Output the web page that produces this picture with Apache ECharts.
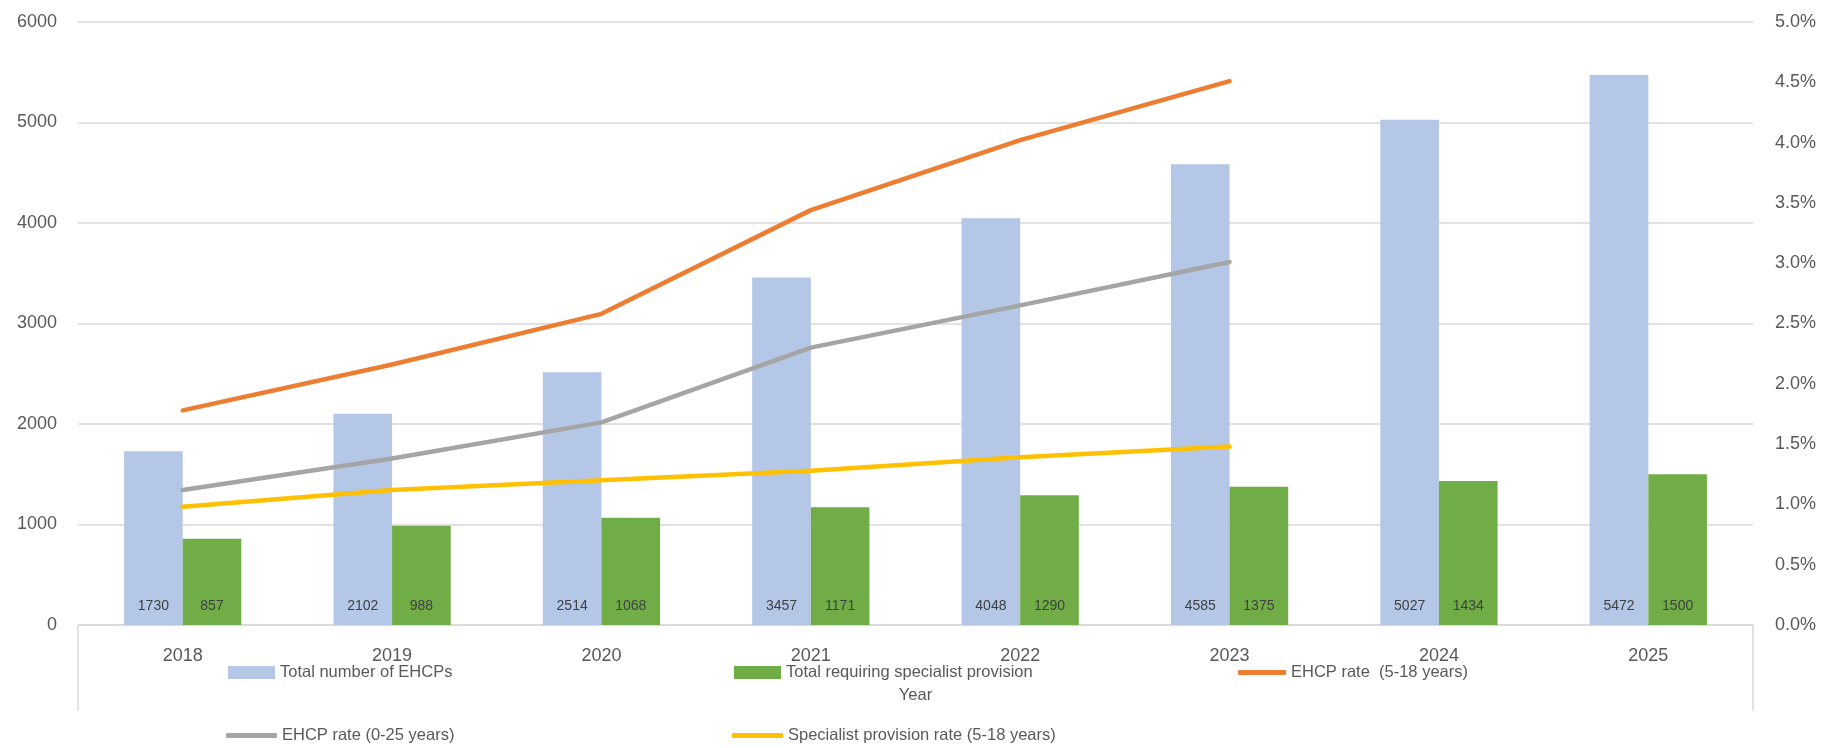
<!DOCTYPE html>
<html>
<head>
<meta charset="utf-8">
<script src="https://cdn.jsdelivr.net/npm/echarts@6/dist/echarts.min.js"></script>
<style>
  html, body { margin: 0; padding: 0; background: #fff; }
  #chart { width: 1827px; height: 748px; }
</style>
</head>
<body>
<div id="chart"></div>
<script>
// data
var years = ['2018', '2019', '2020', '2021', '2022', '2023', '2024', '2025'];
var totalEhcps = [1730, 2102, 2514, 3457, 4048, 4585, 5027, 5472];
var totalSpecialist = [857, 988, 1068, 1171, 1290, 1375, 1434, 1500];
// rates in percent, only up to 2023
var rate518 = [1.78, 2.16, 2.58, 3.44, 4.02, 4.51];
var rate025 = [1.12, 1.38, 1.68, 2.30, 2.65, 3.01];
var specRate518 = [0.98, 1.12, 1.20, 1.28, 1.39, 1.48];

var font = 'Liberation Sans, Arial, sans-serif';
var txt = '#595959';
var gridCol = '#d9d9d9';

var myChart = echarts.init(document.getElementById('chart'));

var barLabel = {
  show: true,
  position: 'insideBottom',
  distance: 12,
  color: '#404040',
  fontSize: 14,
  fontFamily: font
};

function lineSeries(name, data, color) {
  return {
    name: name,
    type: 'line',
    yAxisIndex: 1,
    data: data,
    symbol: 'none',
    color: color,
    lineStyle: { color: color, width: 4.5, cap: 'round', join: 'round' }
  };
}

function legendBox(name, left, top, icon, w, h) {
  return {
    data: [name],
    left: left,
    top: top,
    padding: 0,
    icon: icon,
    itemWidth: w,
    itemHeight: h,
    itemGap: 0,
    textStyle: { color: txt, fontSize: 16.5, fontFamily: font }
  };
}

var option = {
  animation: false,
  textStyle: { fontFamily: font },
  grid: { left: 78, right: 74, top: 22, bottom: 123 },
  legend: [
    legendBox('Total number of EHCPs', 228, 664, 'rect', 47, 13),
    legendBox('Total requiring specialist provision', 734, 664, 'rect', 47, 13),
    legendBox('EHCP rate  (5-18 years)', 1238, 664, 'roundRect', 48, 5),
    legendBox('EHCP rate (0-25 years)', 226, 727, 'roundRect', 51, 5),
    legendBox('Specialist provision rate (5-18 years)', 732, 727, 'roundRect', 51, 5)
  ],
  xAxis: {
    type: 'category',
    data: years,
    name: 'Year',
    nameLocation: 'middle',
    nameGap: 62,
    nameTextStyle: { color: txt, fontSize: 16.5, fontFamily: font },
    axisLine: { lineStyle: { color: gridCol, width: 1.5 } },
    axisTick: { show: false },
    axisLabel: { color: txt, fontSize: 18, margin: 22, fontFamily: font }
  },
  yAxis: [
    {
      type: 'value',
      min: 0,
      max: 6000,
      interval: 1000,
      axisLine: { show: false },
      axisTick: { show: false },
      axisLabel: {
        color: txt, fontSize: 18, margin: 21, fontFamily: font,
        formatter: function (v) { return String(v); }
      },
      splitLine: { lineStyle: { color: gridCol, width: 1.5 } }
    },
    {
      type: 'value',
      min: 0,
      max: 5,
      interval: 0.5,
      position: 'right',
      axisLine: { show: false },
      axisTick: { show: false },
      splitLine: { show: false },
      axisLabel: {
        color: txt, fontSize: 18, margin: 22, fontFamily: font,
        formatter: function (v) { return v.toFixed(1) + '%'; }
      }
    }
  ],
  series: [
    {
      name: 'Total number of EHCPs',
      type: 'bar',
      data: totalEhcps,
      color: '#b4c7e7',
      barGap: '0%',
      barCategoryGap: '44%',
      label: barLabel
    },
    {
      name: 'Total requiring specialist provision',
      type: 'bar',
      data: totalSpecialist,
      color: '#70ad47',
      barGap: '0%',
      barCategoryGap: '44%',
      label: barLabel
    },
    lineSeries('EHCP rate  (5-18 years)', rate518, '#ed7d31'),
    lineSeries('EHCP rate (0-25 years)', rate025, '#a5a5a5'),
    lineSeries('Specialist provision rate (5-18 years)', specRate518, '#ffc000')
  ],
  // side lines of the box under the category axis
  graphic: [
    { type: 'line', shape: { x1: 78, y1: 625, x2: 78, y2: 711 }, style: { stroke: gridCol, lineWidth: 1.5 } },
    { type: 'line', shape: { x1: 1753, y1: 625, x2: 1753, y2: 711 }, style: { stroke: gridCol, lineWidth: 1.5 } }
  ]
};

myChart.setOption(option);

window.addEventListener('resize', function () {
  myChart.resize();
});
</script>
</body>
</html>
